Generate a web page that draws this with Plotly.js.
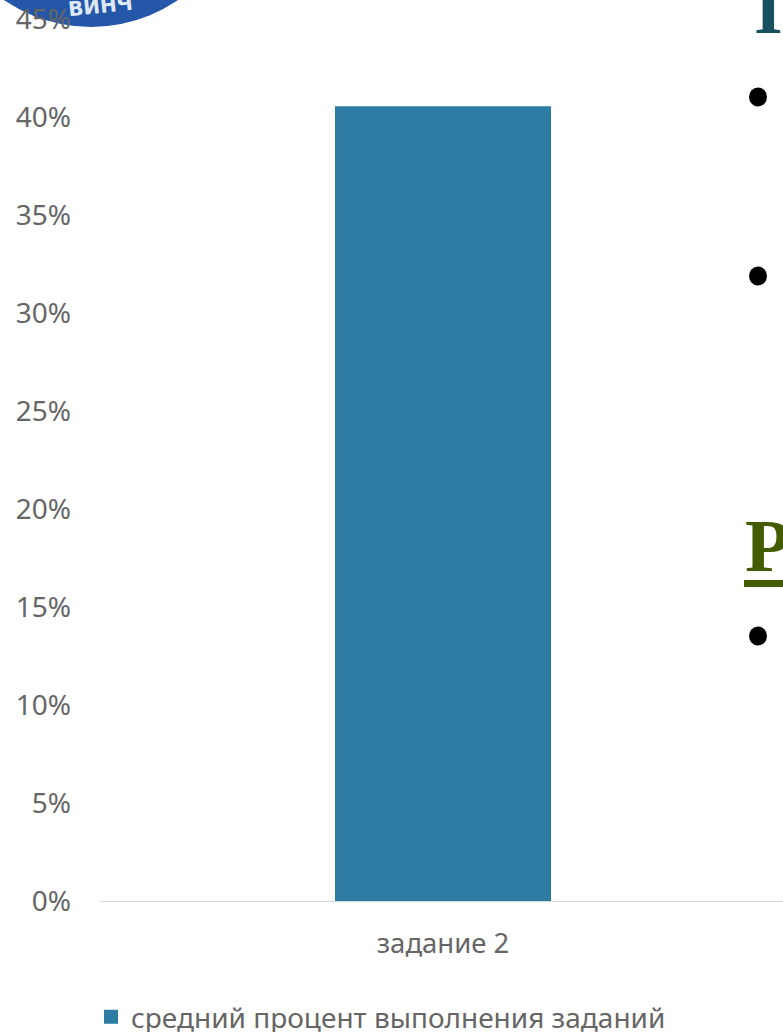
<!DOCTYPE html>
<html><head><meta charset="utf-8">
<script src="https://cdn.plot.ly/plotly-3.0.1.min.js"></script>
<style>html,body{margin:0;padding:0;background:#fff;overflow:hidden}</style>
</head><body><div id="chart" style="width:783px;height:1032px"></div>
<script>
const categories = ["задание 2"];
const seriesName = "средний процент выполнения заданий";
const values = [0.405];
const tickVals = [0,0.05,0.10,0.15,0.20,0.25,0.30,0.35,0.40,0.45];
const tickText = ["0%","5%","10%","15%","20%","25%","30%","35%","40%","45%"];

const W=783,H=1032,L=100,R=0,T=18,B=131;
const px=x=>(x-L)/(W-L-R), py=y=>(H-B-y)/(H-T-B);
const font='"Noto Sans", "Open Sans", sans-serif';
const textColor='#666666';
const circle=(x0,y0,x1,y1,c)=>({type:'circle',xref:'paper',yref:'paper',x0:px(x0),x1:px(x1),y0:py(y0),y1:py(y1),fillcolor:c,line:{width:0},layer:'below'});
const bullets=[97,276,636].map(y=>circle(749,y-9.5,767,y+9.5,'#000'));
const shapes=[circle(-63,-281,245,27,'#2557a8'),...bullets,
 {type:'rect',xref:'paper',yref:'paper',x0:px(744),x1:px(783),y0:py(587),y1:py(580),fillcolor:'#445c00',line:{width:0},layer:'below'}];
const annotations=[
 {text:'<b>П</b>',xref:'paper',yref:'paper',x:px(753),y:py(34),xanchor:'left',yanchor:'bottom',showarrow:false,yshift:-17,font:{family:'"Liberation Serif",serif',size:74,color:'#17505f'}},
 {text:'<b>Р</b>',xref:'paper',yref:'paper',x:px(743),y:py(572),xanchor:'left',yanchor:'bottom',showarrow:false,yshift:-17,font:{family:'"Liberation Serif",serif',size:74,color:'#445c00'}},
 {text:'<b>ВИНЧ</b>',xref:'paper',yref:'paper',x:px(100),y:py(6),xanchor:'center',yanchor:'middle',showarrow:false,textangle:-6,font:{family:'"DejaVu Sans",sans-serif',size:20,color:'#dfe8f5'}}
];
Plotly.newPlot('chart',[{
  type:'bar',x:categories,y:values,name:seriesName,width:0.312,
  marker:{color:'#2e7ca3',line:{width:2,color:'#2e7ca3'}},showlegend:true
}],{
  width:W,height:H,paper_bgcolor:'#fff',plot_bgcolor:'rgba(0,0,0,0)',
  margin:{l:L,r:R,t:T,b:B,pad:0,autoexpand:false},
  font:{family:font,color:textColor,size:27},
  xaxis:{type:'category',range:[-0.5,0.4956],automargin:false,showgrid:false,zeroline:false,showline:true,linecolor:'#d9d9d9',linewidth:1,ticks:'',ticklabelstandoff:18,tickfont:{size:27.5,color:textColor}},
  yaxis:{range:[0,0.4505],automargin:false,ticklabeloverflow:'allow',tickvals:tickVals,ticktext:tickText,showgrid:false,zeroline:false,showline:false,ticks:'',ticklabelstandoff:28,tickfont:{size:28,color:textColor}},
  legend:{orientation:'h',x:px(91),xanchor:'left',y:py(992),yanchor:'top',font:{size:28,color:textColor},bgcolor:'rgba(0,0,0,0)',itemwidth:30},
  shapes,annotations,bargap:0
},{staticPlot:true,displayModeBar:false});
</script></body></html>
